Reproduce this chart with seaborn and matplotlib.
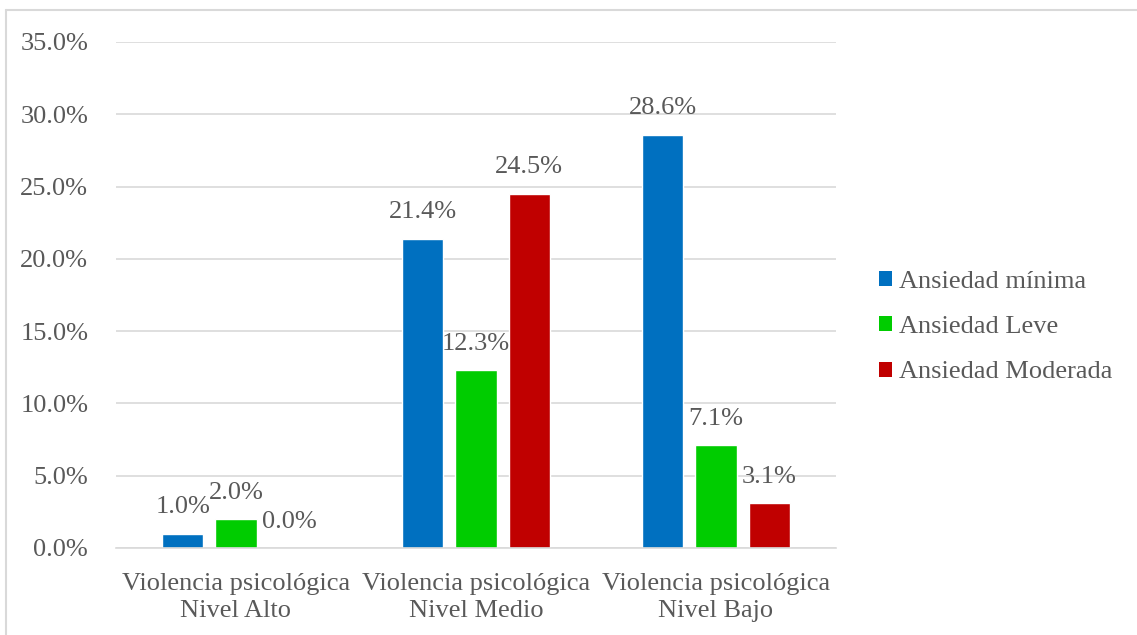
import matplotlib

matplotlib.use("Agg")
import matplotlib.pyplot as plt
import pandas as pd
import seaborn as sns
from matplotlib.lines import Line2D
from matplotlib.patches import Patch
from matplotlib.ticker import FuncFormatter

categories = [
    "Violencia psicológica\nNivel Alto",
    "Violencia psicológica\nNivel Medio",
    "Violencia psicológica\nNivel Bajo",
]
series = ["Ansiedad mínima", "Ansiedad Leve", "Ansiedad Moderada"]
minima = [1.0, 21.4, 28.6]
leve = [2.0, 12.3, 7.1]
moderada = [0.0, 24.5, 3.1]
colors = ["#0070C0", "#00CC00", "#C00000"]

rows = []
for name, vals in zip(series, [minima, leve, moderada]):
    for cat, v in zip(categories, vals):
        rows.append({"cat": cat, "serie": name, "value": v})
df = pd.DataFrame(rows)

sns.set_style("white")
plt.rcParams["font.family"] = ["Liberation Serif", "DejaVu Serif"]
text_color = "#595959"
grid_color = "#D9D9D9"
fs = 19

fig = plt.figure(figsize=(11.37, 6.35), dpi=100)
ax = fig.add_axes([116 / 1137, 1 - 548 / 635, 720 / 1137, 506 / 635])

sns.barplot(
    data=df, x="cat", y="value", hue="serie", order=categories,
    hue_order=series, palette=colors, width=0.663, gap=0.226,
    saturation=1, ax=ax, legend=False,
)

ax.set_ylim(0, 35)
ax.set_yticks([0, 5, 10, 15, 20, 25, 30, 35])
ax.yaxis.set_major_formatter(FuncFormatter(lambda v, _: f"{v:.1f}%"))
ax.grid(axis="y", color=grid_color, lw=1.2)
ax.set_axisbelow(True)
for s in ["top", "right", "left"]:
    ax.spines[s].set_visible(False)
ax.spines["bottom"].set_color(grid_color)
ax.spines["bottom"].set_linewidth(1.2)
ax.tick_params(axis="both", length=0, labelsize=fs, colors=text_color)
ax.tick_params(axis="y", pad=20)
ax.tick_params(axis="x", pad=18)
for lab in ax.get_xticklabels():
    lab.set_linespacing(1.3)
ax.set_xlabel("")
ax.set_ylabel("")

for cont in ax.containers:
    for bar in cont:
        h = bar.get_height()
        ax.annotate(
            f"{h:.1f}%", (bar.get_x() + bar.get_width() / 2, h),
            xytext=(0, 19), textcoords="offset points",
            ha="center", va="center", fontsize=fs, color=text_color,
        )

handles = [Patch(facecolor=c, edgecolor="none") for c in colors]
fig.legend(
    handles, series, loc="center left", bbox_to_anchor=(879 / 1137, 1 - 327 / 635),
    frameon=False, fontsize=fs, labelcolor=text_color, handlelength=0.5,
    handleheight=0.5, handletextpad=0.25, labelspacing=0.89,
    borderpad=0, borderaxespad=0,
)

# outer chart border
fig.add_artist(Line2D([6 / 1137, 1], [1 - 10 / 635, 1 - 10 / 635], color=grid_color, lw=1.5))
fig.add_artist(Line2D([6 / 1137, 6 / 1137], [0, 1 - 10 / 635], color=grid_color, lw=1.5))

fig.savefig("out.png", dpi=100)
